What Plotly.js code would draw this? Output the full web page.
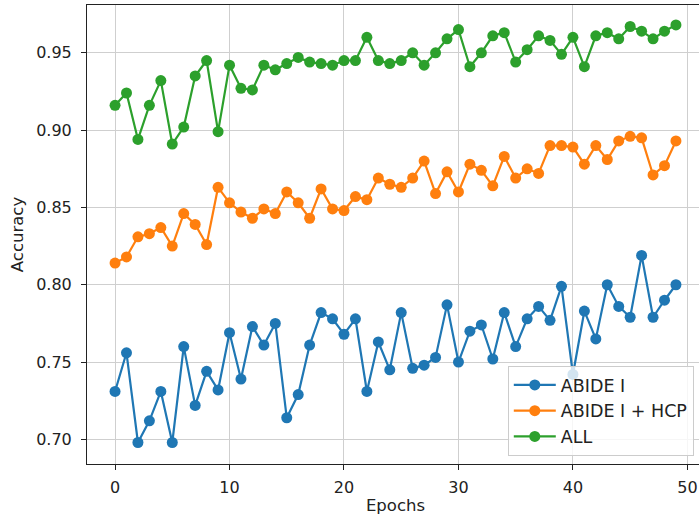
<!DOCTYPE html>
<html>
<head>
<meta charset="utf-8">
<script src="https://cdn.plot.ly/plotly-3.0.1.min.js"></script>
<style>
  html, body { margin: 0; padding: 0; overflow: hidden; background: #fff; }
  #chart { width: 706px; height: 515px; }
</style>
</head>
<body>
<div id="chart"></div>
<script>
const epochs = Array.from({length: 50}, (_, i) => i);

const abide = [0.731, 0.756, 0.698, 0.712, 0.731, 0.698, 0.760, 0.722, 0.744, 0.732,
               0.769, 0.739, 0.773, 0.761, 0.775, 0.714, 0.729, 0.761, 0.782, 0.778,
               0.768, 0.778, 0.731, 0.763, 0.745, 0.782, 0.746, 0.748, 0.753, 0.787,
               0.750, 0.770, 0.774, 0.752, 0.782, 0.760, 0.778, 0.786, 0.777, 0.799,
               0.742, 0.783, 0.765, 0.800, 0.786, 0.779, 0.819, 0.779, 0.790, 0.800];

const abideHcp = [0.814, 0.818, 0.831, 0.833, 0.837, 0.825, 0.846, 0.839, 0.826, 0.863,
                  0.853, 0.847, 0.843, 0.849, 0.846, 0.860, 0.853, 0.843, 0.862, 0.849,
                  0.848, 0.857, 0.855, 0.869, 0.865, 0.863, 0.869, 0.880, 0.859, 0.873,
                  0.860, 0.878, 0.874, 0.864, 0.883, 0.869, 0.875, 0.872, 0.890, 0.890,
                  0.889, 0.878, 0.890, 0.881, 0.893, 0.896, 0.895, 0.871, 0.877, 0.893];

const all = [0.916, 0.924, 0.894, 0.916, 0.932, 0.891, 0.902, 0.935, 0.945, 0.899,
             0.942, 0.927, 0.926, 0.942, 0.939, 0.943, 0.947, 0.944, 0.943, 0.942,
             0.945, 0.945, 0.960, 0.945, 0.943, 0.945, 0.950, 0.942, 0.950, 0.959,
             0.965, 0.941, 0.950, 0.961, 0.963, 0.944, 0.952, 0.961, 0.958, 0.949,
             0.960, 0.941, 0.961, 0.963, 0.959, 0.967, 0.964, 0.959, 0.964, 0.968];

const seriesNames = ['ABIDE I', 'ABIDE I + HCP', 'ALL'];
const seriesData = [abide, abideHcp, all];
const colors = ['#1f77b4', '#ff7f0e', '#2ca02c'];

const xTicks = [0, 10, 20, 30, 40, 50];
const yTicks = [0.70, 0.75, 0.80, 0.85, 0.90, 0.95];
const yTickText = ['0.70', '0.75', '0.80', '0.85', '0.90', '0.95'];

const FONT = 'DejaVu Sans, sans-serif';

const traces = seriesData.map((vals, i) => ({
  x: epochs,
  y: vals,
  name: seriesNames[i],
  legendgroup: 'g' + i,
  type: 'scatter',
  mode: 'lines+markers',
  line: {color: colors[i], width: 2.2},
  marker: {color: colors[i], size: 11}
}));

const axisCommon = {
  showline: true,
  mirror: true,
  linecolor: '#222',
  linewidth: 1,
  showgrid: true,
  gridcolor: '#cfcfcf',
  gridwidth: 1,
  zeroline: false,
  ticks: 'outside',
  ticklen: 5,
  tickwidth: 1,
  tickcolor: '#222',
  tickfont: {family: FONT, size: 16, color: '#222'}
};

const layout = {
  width: 706,
  height: 515,
  margin: {l: 87, r: 2, t: 5, b: 51},
  paper_bgcolor: '#fff',
  plot_bgcolor: '#fff',
  showlegend: true,
  xaxis: Object.assign({}, axisCommon, {
    range: [-2.45, 51.45],
    tickvals: xTicks,
    ticktext: xTicks.map(String),
    ticklabelstandoff: 4,
    title: {text: 'Epochs', font: {family: FONT, size: 16.5, color: '#222'}, standoff: 4}
  }),
  yaxis: Object.assign({}, axisCommon, {
    range: [0.6841, 0.9809],
    tickvals: yTicks,
    ticktext: yTickText,
    ticklabelstandoff: 6,
    title: {text: 'Accuracy', font: {family: FONT, size: 16.5, color: '#222'}, standoff: 8}
  }),
  legend: {
    x: 0.682,
    y: 0.0174,
    xanchor: 'left',
    yanchor: 'bottom',
    bgcolor: 'rgba(255,255,255,0.8)',
    bordercolor: '#cccccc',
    borderwidth: 1,
    traceorder: 'grouped',
    tracegroupgap: 0,
    itemwidth: 42,
    font: {family: FONT, size: 17.5, color: '#222'}
  }
};

Plotly.newPlot('chart', traces, layout, {displayModeBar: false, staticPlot: true});
</script>
</body>
</html>
